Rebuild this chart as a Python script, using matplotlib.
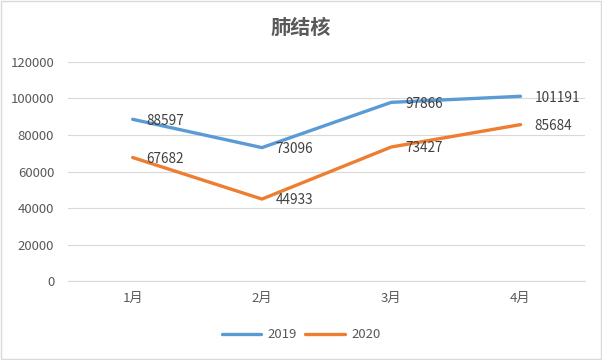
import matplotlib.pyplot as plt
from matplotlib.patches import Rectangle

plt.rcParams['font.family'] = ['Noto Sans CJK SC', 'DejaVu Sans']

# data
months = ['1月', '2月', '3月', '4月']
cases_2019 = [88597, 73096, 97866, 101191]
cases_2020 = [67682, 44933, 73427, 85684]

blue = '#5b9bd5'
orange = '#ed7d31'
text_color = '#595959'

fig = plt.figure(figsize=(6.02, 3.6), dpi=100)
ax = fig.add_axes([0.113, 0.219, 0.859, 0.609])

x = range(len(months))
ax.plot(x, cases_2019, color=blue, lw=2.4, label='2019', solid_capstyle='round')
ax.plot(x, cases_2020, color=orange, lw=2.4, label='2020', solid_capstyle='round')

# data labels, to the right of each point
for series in (cases_2019, cases_2020):
    for i, v in enumerate(series):
        ax.annotate(str(v), (i, v), xytext=(10, -1), textcoords='offset points',
                    ha='left', va='center', fontsize=9.8, color='#404040')

ax.set_xlim(-0.5, 3.5)
ax.set_ylim(0, 120000)
ax.set_yticks(range(0, 120001, 20000))
ax.set_xticks(list(x))
ax.set_xticklabels(months)
ax.tick_params(length=0, colors=text_color, labelsize=9.5)
ax.tick_params(axis='x', pad=8)
ax.tick_params(axis='y', pad=10)
ax.grid(axis='y', color='#d9d9d9', lw=0.8)
ax.set_axisbelow(True)
for s in ax.spines.values():
    s.set_visible(False)
ax.spines['bottom'].set_visible(True)
ax.spines['bottom'].set_color('#d9d9d9')

fig.text(0.5, 0.925, '肺结核', ha='center', va='center', fontsize=14.5,
         fontweight='bold', color=text_color)

fig.legend(loc='center', bbox_to_anchor=(0.5, 0.07), ncol=2, frameon=False,
           fontsize=9.5, labelcolor=text_color, handlelength=3.0,
           columnspacing=0.6, handletextpad=0.5)

fig.patches.append(Rectangle((0.002, 0.003), 0.996, 0.994, transform=fig.transFigure,
                             fill=False, edgecolor='#d9d9d9', lw=1))

fig.savefig('out.png', dpi=100)
